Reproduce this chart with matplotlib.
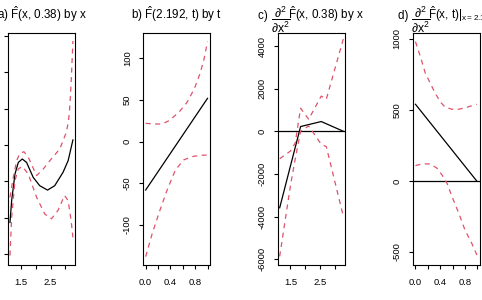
import numpy as np
import matplotlib
matplotlib.use("Agg")
import matplotlib.pyplot as plt

plt.rcParams["font.family"] = ["Liberation Sans", "DejaVu Sans"]
plt.rcParams["mathtext.fontset"] = "custom"
plt.rcParams["mathtext.rm"] = "Liberation Sans"
plt.rcParams["mathtext.it"] = "Liberation Sans"
plt.rcParams["mathtext.sf"] = "Liberation Sans"
plt.rcParams["axes.unicode_minus"] = False

# a) F-hat(x, 0.38) by x  (its y tick labels lie outside the picture)
a_x = [1.143, 1.199, 1.31, 1.421, 1.555, 1.70, 1.92, 2.14, 2.40, 2.64, 2.92, 3.09, 3.25]
a_fit = [-21.3, -15.3, -8.0, -4.8, -3.85, -4.8, -8.9, -11.2, -12.4, -11.2, -7.5, -4.3, 1.4]
a_up_x = [1.143, 1.254, 1.366, 1.477, 1.61, 1.757, 2.035, 2.257, 2.48, 2.81, 3.03, 3.10, 3.14, 3.19, 3.25]
a_up = [-14.4, -8.9, -4.3, -2.3, -1.85, -3.4, -8.4, -6.6, -4.3, -1.1, 3.5, 6.5, 10.0, 17.0, 28.6]
a_lo_x = [1.143, 1.199, 1.31, 1.421, 1.555, 1.757, 2.035, 2.31, 2.53, 2.75, 2.97, 3.09, 3.19, 3.25]
a_lo = [-30.4, -19.9, -9.8, -6.6, -5.9, -8.0, -14.4, -19.0, -20.3, -18.0, -13.9, -15.3, -20.8, -25.4]

# b) F-hat(2.192, t) by t
b_t = [0.0, 1.0]
b_fit = [-58, 52]
b_up_t = [0.0, 0.133, 0.267, 0.40, 0.453, 0.533, 0.613, 0.667, 0.747, 0.80, 0.88, 0.94, 1.0]
b_up = [22, 21.2, 21.2, 26, 30, 35, 42, 47, 58, 66, 82, 98, 120]
b_lo_t = [0.0, 0.107, 0.213, 0.347, 0.48, 0.613, 0.747, 0.88, 1.0]
b_lo = [-138, -110, -86, -58, -34, -22, -18, -16.4, -16]

# c) second derivative in x at t = 0.38
c_x = [1.14, 1.84, 2.53, 3.27]
c_fit = [-3590, 221, 456, 0]
c_band_x = [1.14, 1.50, 1.66, 1.84, 2.11, 2.53, 2.70, 3.27]
c_band1 = [-1290, -930, -550, 1080, 560, 1650, 1500, 4330]
c_band2 = [-5870, -2550, -1300, 0, 250, -610, -720, -3990]

# d) second derivative in x at x = 2.192, by t
d_t = [0.0, 0.99]
d_fit = [540, 0]
d_up_t = [0.0, 0.08, 0.16, 0.24, 0.32, 0.40, 0.48, 0.59, 0.70, 0.83, 0.99]
d_up = [981, 875, 758, 688, 617, 558, 519, 505, 505, 519, 540]
d_lo_t = [0.0, 0.107, 0.24, 0.35, 0.43, 0.51, 0.59, 0.70, 0.80, 0.91, 0.98, 1.0]
d_lo = [108, 120, 120, 89, 42, -16, -110, -227, -345, -439, -509, -525]

FRAC = r"$\dfrac{\partial^2}{\partial \mathrm{x}^2}$"
# each title is a list of pieces: (text, is_fraction)
titles = [
    [(r"a) $\hat{\mathrm{F}}$(x, 0.38) by x", False)],
    [(r"b) $\hat{\mathrm{F}}$(2.192, t) by t", False)],
    [("c) ", False), (FRAC, True), (r"$\hat{\mathrm{F}}$(x, 0.38) by x", False)],
    [("d) ", False), (FRAC, True), (r"$\hat{\mathrm{F}}$(x, t)$|_{\mathrm{x=2.192}}$", False)],
]

RED = "#DF536B"
W, H = 482, 300
fig = plt.figure(figsize=(W / 100, H / 100), dpi=100)

axes = []
for i in range(4):
    left = 8.3 + 134.9 * i
    ax = fig.add_axes([left / W, 35 / H, 66.8 / W, 232 / H])
    axes.append(ax)

dash = (0, (4, 3.6))
lw = 0.9

ax = axes[0]
ax.plot(a_x, a_fit, color="black", lw=lw)
ax.plot(a_up_x, a_up, color=RED, lw=lw, ls=dash)
ax.plot(a_lo_x, a_lo, color=RED, lw=lw, ls=dash)
ax.set_xlim(1.087, 3.323)
ax.set_ylim(-33.0, 30.8)
ax.set_xticks([1.5, 2.0, 2.5, 3.0], ["1.5", "", "2.5", ""])
ax.set_yticks([-30, -20, -10, 0, 10, 20, 30])

ax = axes[1]
ax.plot(b_t, b_fit, color="black", lw=lw)
ax.plot(b_up_t, b_up, color=RED, lw=lw, ls=dash)
ax.plot(b_lo_t, b_lo, color=RED, lw=lw, ls=dash)
ax.set_xlim(-0.04, 1.04)
ax.set_ylim(-148, 130.4)
ax.set_xticks([0, 0.2, 0.4, 0.6, 0.8, 1.0], ["0.0", "", "0.4", "", "0.8", ""])
ax.set_yticks([-100, -50, 0, 50, 100])

ax = axes[2]
ax.axhline(0, color="black", lw=lw)
ax.plot(c_x, c_fit, color="black", lw=lw)
ax.plot(c_band_x, c_band1, color=RED, lw=lw, ls=dash)
ax.plot(c_band_x, c_band2, color=RED, lw=lw, ls=dash)
ax.set_xlim(1.087, 3.323)
ax.set_ylim(-6275, 4610)
ax.set_xticks([1.5, 2.0, 2.5, 3.0], ["1.5", "", "2.5", ""])
ax.set_yticks([-6000, -4000, -2000, 0, 2000, 4000])

ax = axes[3]
ax.axhline(0, color="black", lw=lw)
ax.plot(d_t, d_fit, color="black", lw=lw)
ax.plot(d_up_t, d_up, color=RED, lw=lw, ls=dash)
ax.plot(d_lo_t, d_lo, color=RED, lw=lw, ls=dash)
ax.set_xlim(-0.04, 1.04)
ax.set_ylim(-592, 1042)
ax.set_xticks([0, 0.2, 0.4, 0.6, 0.8, 1.0], ["0.0", "", "0.4", "", "0.8", ""])
ax.set_yticks([-500, 0, 500, 1000])

for ax in axes:
    for s in ax.spines.values():
        s.set_linewidth(0.8)
    ax.tick_params(length=3.2, width=0.8, labelsize=6.8)
    ax.tick_params(axis="x", pad=6.5)
    ax.tick_params(axis="y", pad=5)
    for lab in ax.get_yticklabels():
        lab.set_rotation(90)
        lab.set_va("center")
# panel a's tick labels are outside the visible area in the original
axes[0].tick_params(axis="y", labelleft=False)

# titles: pieces laid out left to right, centred over each panel
renderer = fig.canvas.get_renderer()
y_base = (H - 18.5) / H
y_frac = (H - 19.5) / H
for ax, pieces in zip(axes, titles):
    texts = []
    widths = []
    for s, is_frac in pieces:
        if is_frac:
            t = fig.text(0, y_frac, s, fontsize=8.8, ha="left", va="center")
        else:
            t = fig.text(0, y_base, s, fontsize=8.4, ha="left", va="baseline")
        texts.append(t)
        w = t.get_window_extent(renderer).width
        widths.append(w - 2.5 if is_frac else w)
    bb = ax.get_position()
    cx = (bb.x0 + bb.x1) / 2 * W
    x = cx - sum(widths) / 2
    for t, w in zip(texts, widths):
        t.set_x(x / W)
        x += w

fig.savefig("out.png", dpi=100)
